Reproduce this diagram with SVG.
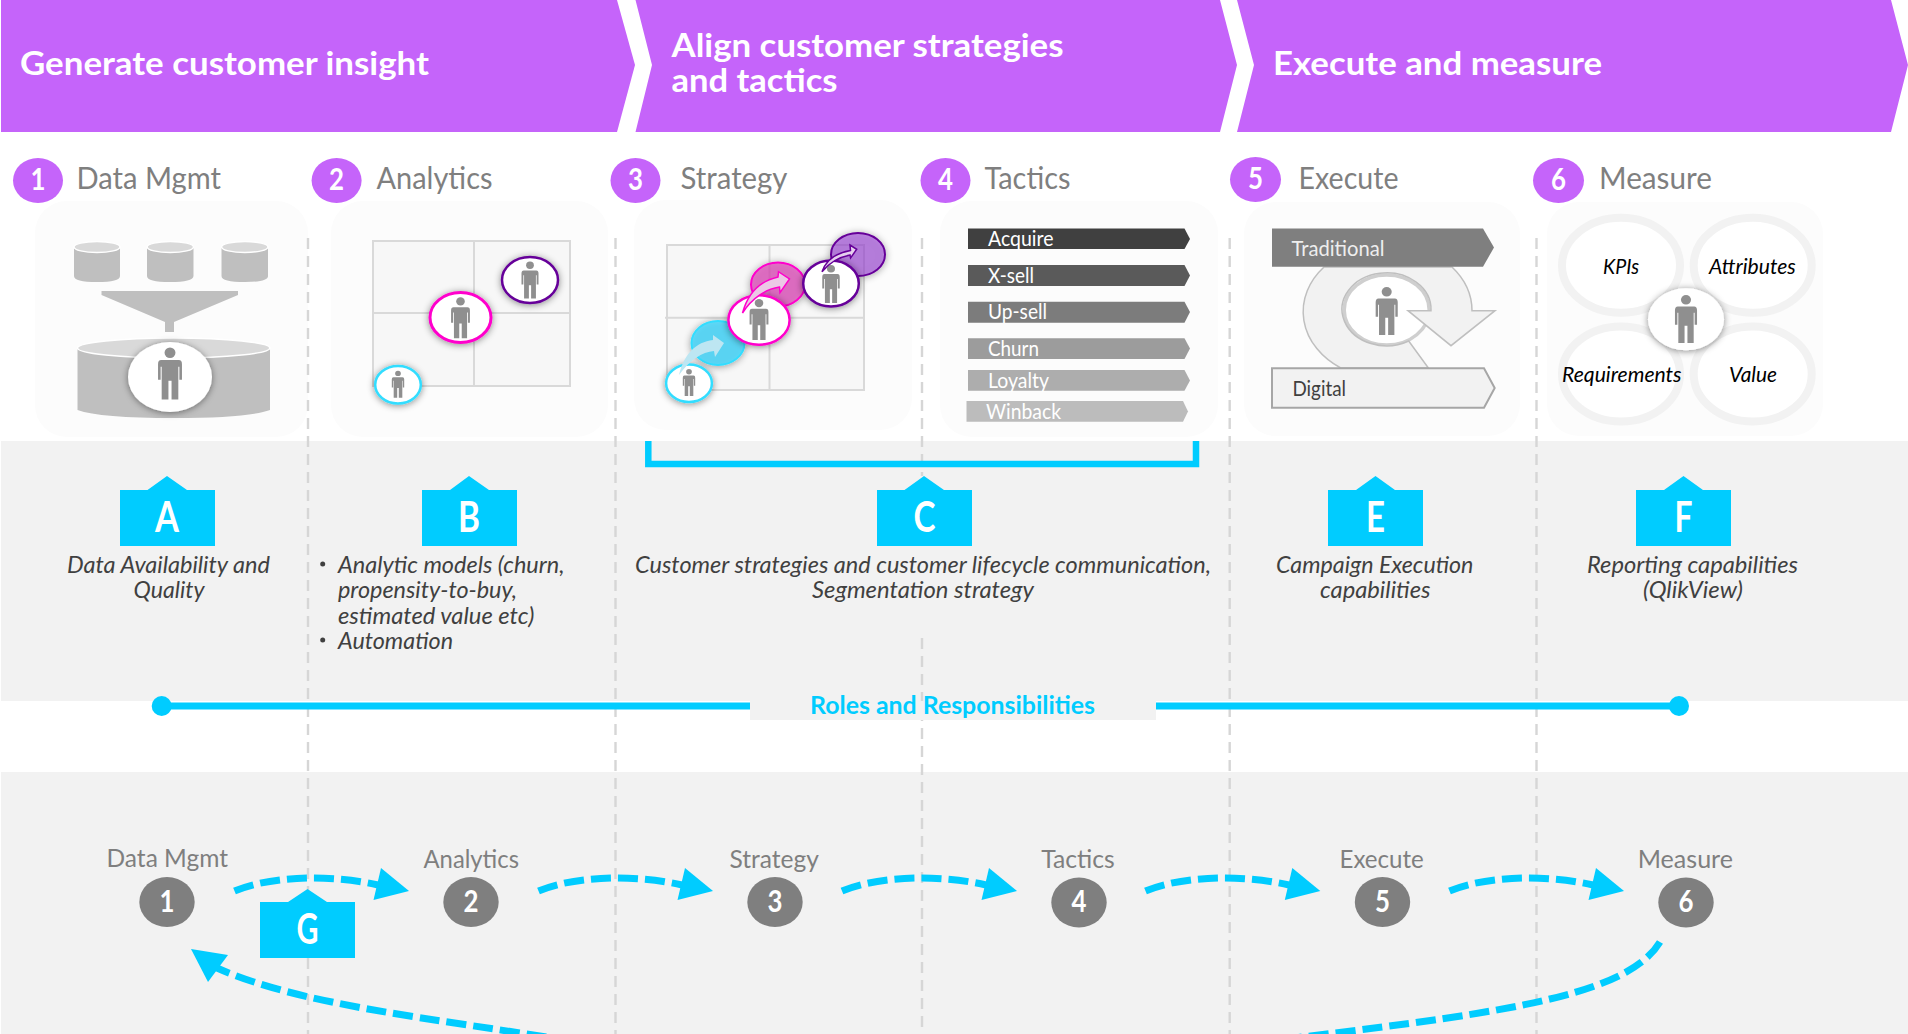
<svg xmlns="http://www.w3.org/2000/svg" xmlns:xlink="http://www.w3.org/1999/xlink" width="1908" height="1034" viewBox="0 0 1908 1034">
<style>
text{font-family:Lato,"Open Sans","Liberation Sans",sans-serif}
.ban{fill:#c564fa}
.bt{fill:#fff;font-weight:700;font-size:32.5px}
.num{fill:#fff;font-weight:700;font-size:30px;text-anchor:middle}
.hd{fill:#7f7f7f;font-size:31px}
.pc{fill:#c564fa}
.panel{fill:#fcfcfc}
.dash{stroke:#d6d6d6;stroke-width:2.4;stroke-dasharray:11 7;fill:none}
.cyl{fill:#bfbfbf}
.top{fill:#d9d9d9;stroke:#fff;stroke-width:1.5}
.grid{fill:#f7f7f7;stroke:#d9d9d9;stroke-width:2}
.gl{stroke:#d9d9d9;stroke-width:2;fill:none}
.wc{fill:#fff}
.bar{fill:#fff;font-size:21px}
.box{fill:#00ccff}
.ltr{fill:#fff;font-weight:700;font-size:42px;text-anchor:middle}
.desc{fill:#404040;font-style:italic;font-size:23px}
.ring{fill:#fff;stroke:#f2f2f2;stroke-width:8}
.rt{fill:#000;font-style:italic;font-size:22px}
.fl{fill:#7f7f7f;font-size:24.5px}
.fn{fill:#7f7f7f}
.arc{fill:none;stroke:#00ccff;stroke-width:7;stroke-dasharray:20 7}
.head{fill:#00ccff}
</style>
<defs>
<g id="person" fill="#8f8f8f"><ellipse cx="0" cy="10" rx="10.5" ry="10"/><path d="M-17 24H17Q23 24 23 32V62H18V37H16V100H3V64H-3V100H-16V37H-18V62H-23V32Q-23 24-17 24Z"/></g>
<filter id="sh" x="-30%" y="-30%" width="160%" height="160%"><feDropShadow dx="0" dy="1" stdDeviation="3.5" flood-color="#000" flood-opacity=".45"/></filter>
</defs>
<rect width="1908" height="1034" fill="#fff"/>
<rect x="1" y="441" width="1907" height="260" fill="#f2f2f2"/>
<rect x="1" y="772" width="1907" height="262" fill="#f2f2f2"/>

<g id="banner-insight"><polygon class="ban" points="1,0 617,0 635,65 617,132 1,132"/><text class="bt" x="20" y="74.500" textLength="409" lengthAdjust="spacingAndGlyphs">Generate customer insight</text></g>
<g id="banner-align"><polygon class="ban" points="635.5,0 1220,0 1237,65 1220,132 635.5,132 652,65"/><text class="bt" x="671.500" y="57" textLength="392" lengthAdjust="spacingAndGlyphs">Align customer strategies</text><text class="bt" x="671.500" y="92" textLength="166" lengthAdjust="spacingAndGlyphs">and tactics</text></g>
<g id="banner-execute"><polygon class="ban" points="1237,0 1891,0 1908,65 1891,132 1237,132 1254,65"/><text class="bt" x="1273" y="75" textLength="329" lengthAdjust="spacingAndGlyphs">Execute and measure</text></g>

<g id="panels">
<rect class="panel" x="35" y="201" width="273" height="236" rx="32"/>
<rect class="panel" x="331" y="201" width="277" height="236" rx="32"/>
<rect class="panel" x="634" y="200" width="278" height="230" rx="32"/>
<rect class="panel" x="940" y="201" width="278" height="236" rx="32"/>
<rect class="panel" x="1244" y="202" width="276" height="234" rx="32"/>
<rect class="panel" x="1547" y="202" width="276" height="234" rx="32"/>
</g>

<g id="dividers">
<path class="dash" d="M308 238V1034"/>
<path class="dash" d="M615.5 238V1034"/>
<path class="dash" d="M922 238V476M922 638V1034"/>
<path class="dash" d="M1229.7 238V1034"/>
<path class="dash" d="M1536.5 238V1034"/>
</g>

<g id="step-1"><ellipse class="pc" cx="38" cy="180.5" rx="25" ry="22.5"/><text class="num" x="38" y="189.500" textLength="15" lengthAdjust="spacingAndGlyphs">1</text><text class="hd" x="76.500" y="189" textLength="144.500" lengthAdjust="spacingAndGlyphs">Data Mgmt</text>
<g id="icon-data">
<path class="cyl" d="M74 247V276Q74 282 97 282T120 276V247Z"/><ellipse class="top" cx="97" cy="247" rx="23" ry="5.5"/>
<path class="cyl" d="M147 247V276Q147 282 170 282T193.500 276V247Z"/><ellipse class="top" cx="170.300" cy="247" rx="23.200" ry="5.500"/>
<path class="cyl" d="M221.500 247V276Q221.500 282 245 282T268 276V247Z"/><ellipse class="top" cx="244.800" cy="247" rx="23.200" ry="5.500"/>
<polygon class="cyl" points="101.500,291 238,291 238,295 174,322 174,332 165,332 165,322 101.500,295"/>
<path class="cyl" d="M77.500 348V410Q100 418 174 418T270 410V348Z"/><ellipse class="top" cx="173.700" cy="348" rx="96.200" ry="10"/>
<ellipse class="wc" cx="170" cy="377" rx="42" ry="35" filter="url(#sh)"/>
<use href="#person" transform="translate(170 347.500) scale(.52)"/>
</g></g>

<g id="step-2"><ellipse class="pc" cx="336.600" cy="180.500" rx="25" ry="22.500"/><text class="num" x="336.600" y="189.500" textLength="15" lengthAdjust="spacingAndGlyphs">2</text><text class="hd" x="376.500" y="189" textLength="116" lengthAdjust="spacingAndGlyphs">Analytics</text>
<g id="icon-analytics">
<rect class="grid" x="373" y="241" width="197" height="145"/><path class="gl" d="M474 241V386M373 313H570"/>
<ellipse class="wc" cx="530" cy="280" rx="28" ry="23" stroke="#660099" stroke-width="2.500" filter="url(#sh)"/><use href="#person" transform="translate(530 261.500) scale(.37)"/>
<ellipse class="wc" cx="460.500" cy="317.500" rx="30.500" ry="25" stroke="#ff00cc" stroke-width="3" filter="url(#sh)"/><use href="#person" transform="translate(460.500 297.300) scale(.41)"/>
<ellipse class="wc" cx="398" cy="384.700" rx="22.800" ry="18.700" stroke="#33ddff" stroke-width="2.500" filter="url(#sh)"/><use href="#person" transform="translate(398 370.700) scale(.27)"/>
</g></g>

<g id="step-3"><ellipse class="pc" cx="635.500" cy="180.500" rx="25" ry="22.500"/><text class="num" x="635.500" y="189.500" textLength="15" lengthAdjust="spacingAndGlyphs">3</text><text class="hd" x="680.500" y="189" textLength="107" lengthAdjust="spacingAndGlyphs">Strategy</text>
<g id="icon-strategy">
<rect class="grid" x="667" y="245" width="197" height="145"/><path class="gl" d="M769.500 245V390M665 317.700H864"/>
<ellipse cx="858" cy="254.500" rx="27" ry="21.500" fill="#9a40d8" fill-opacity=".55" stroke="#660099" stroke-width="2" filter="url(#sh)"/>
<ellipse cx="778" cy="284.500" rx="27" ry="22" fill="#e040b8" fill-opacity=".65" stroke="#ff00cc" stroke-width="2" filter="url(#sh)"/>
<ellipse cx="718" cy="343" rx="26.500" ry="22" fill="#33d6ff" fill-opacity=".7" stroke="#33ddff" stroke-width="2" filter="url(#sh)"/>
<ellipse class="wc" cx="831" cy="283.500" rx="27.800" ry="23" stroke="#660099" stroke-width="2.500" filter="url(#sh)"/><use href="#person" transform="translate(831 265) scale(.38)"/>
<ellipse class="wc" cx="759" cy="320" rx="30.600" ry="24.700" stroke="#ff00cc" stroke-width="2.500" filter="url(#sh)"/><use href="#person" transform="translate(759 299) scale(.41)"/>
<ellipse class="wc" cx="689" cy="383.300" rx="22.900" ry="18.700" stroke="#33ddff" stroke-width="2.500" filter="url(#sh)"/><use href="#person" transform="translate(689 369) scale(.27)"/>
<path d="M679 375C684 354 696 342 713 340L713 335L724 343L715 357L714 351C702 352 690 360 679 375Z" fill="#bde6f2"/>
<path d="M742.500 313C748 293 760 281 778 277L778.500 271.700L789.500 279L780 292.700L779.500 287C766 289 752 298 742.500 313Z" fill="#ecc8e6" stroke="#ff00cc" stroke-width="1.500"/>
<path d="M822 271.700C826 260 836 253 850.500 250.500L850 245L856.700 249.300L850.600 258L850 255C840 257 830 262 822 271.700Z" fill="#e6d0ee" stroke="#660099" stroke-width="1.500"/>
</g></g>

<g id="step-4"><ellipse class="pc" cx="945.500" cy="180.500" rx="25" ry="22.500"/><text class="num" x="945.500" y="189.500" textLength="15" lengthAdjust="spacingAndGlyphs">4</text><text class="hd" x="984.500" y="189" textLength="86" lengthAdjust="spacingAndGlyphs">Tactics</text>
<g id="icon-tactics">
<polygon fill="#404040" points="968,228.500 1184.500,228.500 1190,239 1184.500,249 968,249"/><text class="bar" x="988" y="246" textLength="65.500" lengthAdjust="spacingAndGlyphs">Acquire</text>
<polygon fill="#5a5a5a" points="968,265 1184.500,265 1190,275.500 1184.500,286 968,286"/><text class="bar" x="988" y="282.500" textLength="46" lengthAdjust="spacingAndGlyphs">X-sell</text>
<polygon fill="#7c7c7c" points="968,301.700 1184.500,301.700 1190,312 1184.500,322.700 968,322.700"/><text class="bar" x="988" y="319" textLength="59" lengthAdjust="spacingAndGlyphs">Up-sell</text>
<polygon fill="#9c9c9c" points="968,338.300 1184.500,338.300 1190,348.500 1184.500,359 968,359"/><text class="bar" x="988" y="356" textLength="51" lengthAdjust="spacingAndGlyphs">Churn</text>
<polygon fill="#adadad" points="968,370 1184.500,370 1190,380.500 1184.500,390.700 968,390.700"/><text class="bar" x="988" y="387.500" textLength="61" lengthAdjust="spacingAndGlyphs">Loyalty</text>
<polygon fill="#bcbcbc" points="966.500,401 1183,401 1188,411.500 1183,421.700 966.500,421.700"/><text class="bar" x="986" y="419" textLength="75" lengthAdjust="spacingAndGlyphs">Winback</text>
</g></g>

<g id="step-5"><ellipse class="pc" cx="1255.500" cy="179.500" rx="25.500" ry="22.500"/><text class="num" x="1255.500" y="188.500" textLength="15" lengthAdjust="spacingAndGlyphs">5</text><text class="hd" x="1298.500" y="189" textLength="100" lengthAdjust="spacingAndGlyphs">Execute</text>
<g id="icon-execute">
<ellipse class="wc" cx="1386.700" cy="310" rx="42.500" ry="35" stroke="#cfcfcf" stroke-width="3.500"/>
<use href="#person" transform="translate(1386.700 287) scale(.48)"/>
<path d="M1452 267A85 68 0 0 1 1472 310.700H1495L1451 345.700L1408 310.700H1431A44.500 36.500 0 1 0 1408.700 341L1428.400 368H1340.700A85 68 0 0 1 1324 267Z" fill="#f2f2f2" stroke="#bfbfbf" stroke-width="1.500"/>
<polygon fill="#7f7f7f" points="1272,228.500 1483,228.500 1494,247.500 1483,266.700 1272,266.700"/><text x="1291.500" y="255.500" fill="#eee" font-size="22" textLength="93" lengthAdjust="spacingAndGlyphs">Traditional</text>
<polygon fill="#f2f2f2" stroke="#a6a6a6" stroke-width="2" points="1272,368.300 1484,368.300 1494.700,388 1484,407.700 1272,407.700"/><text x="1292.400" y="395.500" fill="#404040" font-size="22" textLength="53.600" lengthAdjust="spacingAndGlyphs">Digital</text>
</g></g>

<g id="step-6"><ellipse class="pc" cx="1558.500" cy="180.500" rx="25.500" ry="22.500"/><text class="num" x="1558.500" y="189.500" textLength="15" lengthAdjust="spacingAndGlyphs">6</text><text class="hd" x="1599" y="189" textLength="113" lengthAdjust="spacingAndGlyphs">Measure</text>
<g id="icon-measure">
<ellipse class="ring" cx="1621" cy="265.300" rx="59" ry="47.500"/><ellipse class="ring" cx="1752.700" cy="265.300" rx="59" ry="47.500"/>
<ellipse class="ring" cx="1621" cy="374" rx="59" ry="47.500"/><ellipse class="ring" cx="1752.700" cy="374" rx="59" ry="47.500"/>
<text class="rt" x="1603" y="273.500" textLength="36" lengthAdjust="spacingAndGlyphs">KPIs</text>
<text class="rt" x="1709" y="273.500" textLength="86.700" lengthAdjust="spacingAndGlyphs">Attributes</text>
<text class="rt" x="1562" y="382" textLength="119.600" lengthAdjust="spacingAndGlyphs">Requirements</text>
<text class="rt" x="1729" y="382" textLength="48" lengthAdjust="spacingAndGlyphs">Value</text>
<ellipse class="wc" cx="1686" cy="319.300" rx="38" ry="31" filter="url(#sh)"/>
<use href="#person" transform="translate(1686 295) scale(.48)"/>
</g></g>

<g id="callout-a"><polygon class="box" points="120,490 147.500,490 167,476 187,490 215,490 215,546 120,546"/><text class="ltr" x="167" y="532" textLength="24" lengthAdjust="spacingAndGlyphs">A</text>
<text class="desc" x="67" y="572.500" textLength="203" lengthAdjust="spacingAndGlyphs">Data Availability and</text><text class="desc" x="133.500" y="598" textLength="71" lengthAdjust="spacingAndGlyphs">Quality</text></g>
<g id="callout-b"><polygon class="box" points="422,490 450,490 469,476 489,490 517,490 517,546 422,546"/><text class="ltr" x="469" y="532" textLength="22" lengthAdjust="spacingAndGlyphs">B</text>
<circle cx="322.700" cy="564" r="2.500" fill="#404040"/><circle cx="322.700" cy="640" r="2.500" fill="#404040"/>
<text class="desc" x="338" y="572.500" textLength="226.500" lengthAdjust="spacingAndGlyphs">Analytic models (churn,</text><text class="desc" x="338" y="598" textLength="179" lengthAdjust="spacingAndGlyphs">propensity-to-buy,</text><text class="desc" x="338" y="623.500" textLength="196.500" lengthAdjust="spacingAndGlyphs">estimated value etc)</text><text class="desc" x="338" y="648.500" textLength="115" lengthAdjust="spacingAndGlyphs">Automation</text></g>
<g id="callout-c"><polygon class="box" points="877,490 904.500,490 924,476 944,490 972,490 972,546 877,546"/><text class="ltr" x="924.500" y="532" textLength="22" lengthAdjust="spacingAndGlyphs">C</text>
<text class="desc" x="635" y="572.500" textLength="576" lengthAdjust="spacingAndGlyphs">Customer strategies and customer lifecycle communication,</text><text class="desc" x="812" y="598" textLength="222" lengthAdjust="spacingAndGlyphs">Segmentation strategy</text></g>
<g id="callout-e"><polygon class="box" points="1328,490 1356,490 1375.500,476 1395,490 1423,490 1423,546 1328,546"/><text class="ltr" x="1375.500" y="532" textLength="19" lengthAdjust="spacingAndGlyphs">E</text>
<text class="desc" x="1276" y="572.500" textLength="197.400" lengthAdjust="spacingAndGlyphs">Campaign Execution</text><text class="desc" x="1320" y="598" textLength="110.500" lengthAdjust="spacingAndGlyphs">capabilities</text></g>
<g id="callout-f"><polygon class="box" points="1636,490 1664,490 1683.500,476 1703,490 1731,490 1731,546 1636,546"/><text class="ltr" x="1683.500" y="532" textLength="18" lengthAdjust="spacingAndGlyphs">F</text>
<text class="desc" x="1587" y="572.500" textLength="211" lengthAdjust="spacingAndGlyphs">Reporting capabilities</text><text class="desc" x="1643" y="598" textLength="100" lengthAdjust="spacingAndGlyphs">(QlikView)</text></g>

<g id="roles">
<rect x="750" y="701" width="406" height="19" fill="#f2f2f2"/>
<text x="810" y="713.500" fill="#00ccff" font-weight="700" font-size="25.500" textLength="285" lengthAdjust="spacingAndGlyphs">Roles and Responsibilities</text>
</g>

<g id="connectors">
<path d="M648.300 441V464H1196V441" fill="none" stroke="#00ccff" stroke-width="6.500"/>
<path d="M162 706H750M1156 706H1679" fill="none" stroke="#00ccff" stroke-width="7"/>
<circle class="head" cx="161.700" cy="706" r="10"/><circle class="head" cx="1679" cy="706" r="10"/>
<path class="arc" d="M234.500 891C270 876 330 874 378 885"/>
<polygon class="head" points="409,891 381,868 373.500,900"/>
<path class="arc" d="M538.500 891C574 876 634 874 682 885"/><polygon class="head" points="713,891 685,868 677.500,900"/>
<path class="arc" d="M842 891C878 876 938 874 986 885"/><polygon class="head" points="1017,891 989,868 981.500,900"/>
<path class="arc" d="M1145.500 891C1181 876 1241 874 1289 885"/><polygon class="head" points="1320.300,891 1292.300,868 1284.800,900"/>
<path class="arc" d="M1449.500 891C1485 876 1545 874 1593 885"/><polygon class="head" points="1624,891 1596,868 1588.500,900"/>
<path class="arc" d="M1660 942C1625 1000 1480 1015 1262 1042H578C430 1018 300 1005 217 968"/>
<polygon class="head" points="191,949 228,955 208,982"/>
</g>

<g id="flow-1"><text class="fl" x="106.500" y="866.500" textLength="121.500" lengthAdjust="spacingAndGlyphs">Data Mgmt</text><ellipse class="fn" cx="167" cy="902" rx="27.700" ry="25"/><text class="num" x="167" y="911.500" textLength="15" lengthAdjust="spacingAndGlyphs">1</text></g>
<g id="flow-2"><text class="fl" x="423.500" y="867.500" textLength="95.500" lengthAdjust="spacingAndGlyphs">Analytics</text><ellipse class="fn" cx="471" cy="902" rx="27.700" ry="25"/><text class="num" x="471" y="911.500" textLength="15" lengthAdjust="spacingAndGlyphs">2</text></g>
<g id="flow-3"><text class="fl" x="729.500" y="867.500" textLength="89.500" lengthAdjust="spacingAndGlyphs">Strategy</text><ellipse class="fn" cx="775" cy="902" rx="27.700" ry="25"/><text class="num" x="775" y="911.500" textLength="15" lengthAdjust="spacingAndGlyphs">3</text></g>
<g id="flow-4"><text class="fl" x="1041.200" y="867.500" textLength="73.500" lengthAdjust="spacingAndGlyphs">Tactics</text><ellipse class="fn" cx="1079" cy="902.500" rx="27.700" ry="25"/><text class="num" x="1079" y="911.500" textLength="15" lengthAdjust="spacingAndGlyphs">4</text></g>
<g id="flow-5"><text class="fl" x="1339.500" y="867.500" textLength="84.300" lengthAdjust="spacingAndGlyphs">Execute</text><ellipse class="fn" cx="1382.500" cy="902" rx="27.700" ry="25"/><text class="num" x="1382.500" y="911.500" textLength="15" lengthAdjust="spacingAndGlyphs">5</text></g>
<g id="flow-6"><text class="fl" x="1637.700" y="867.500" textLength="95.300" lengthAdjust="spacingAndGlyphs">Measure</text><ellipse class="fn" cx="1686" cy="902.500" rx="27.700" ry="25"/><text class="num" x="1686" y="911.500" textLength="15" lengthAdjust="spacingAndGlyphs">6</text></g>

<g id="callout-g"><polygon class="box" points="260,902 288,902 307.500,889 327,902 355,902 355,958 260,958"/><text class="ltr" x="307.500" y="944" textLength="22" lengthAdjust="spacingAndGlyphs">G</text></g>
</svg>
